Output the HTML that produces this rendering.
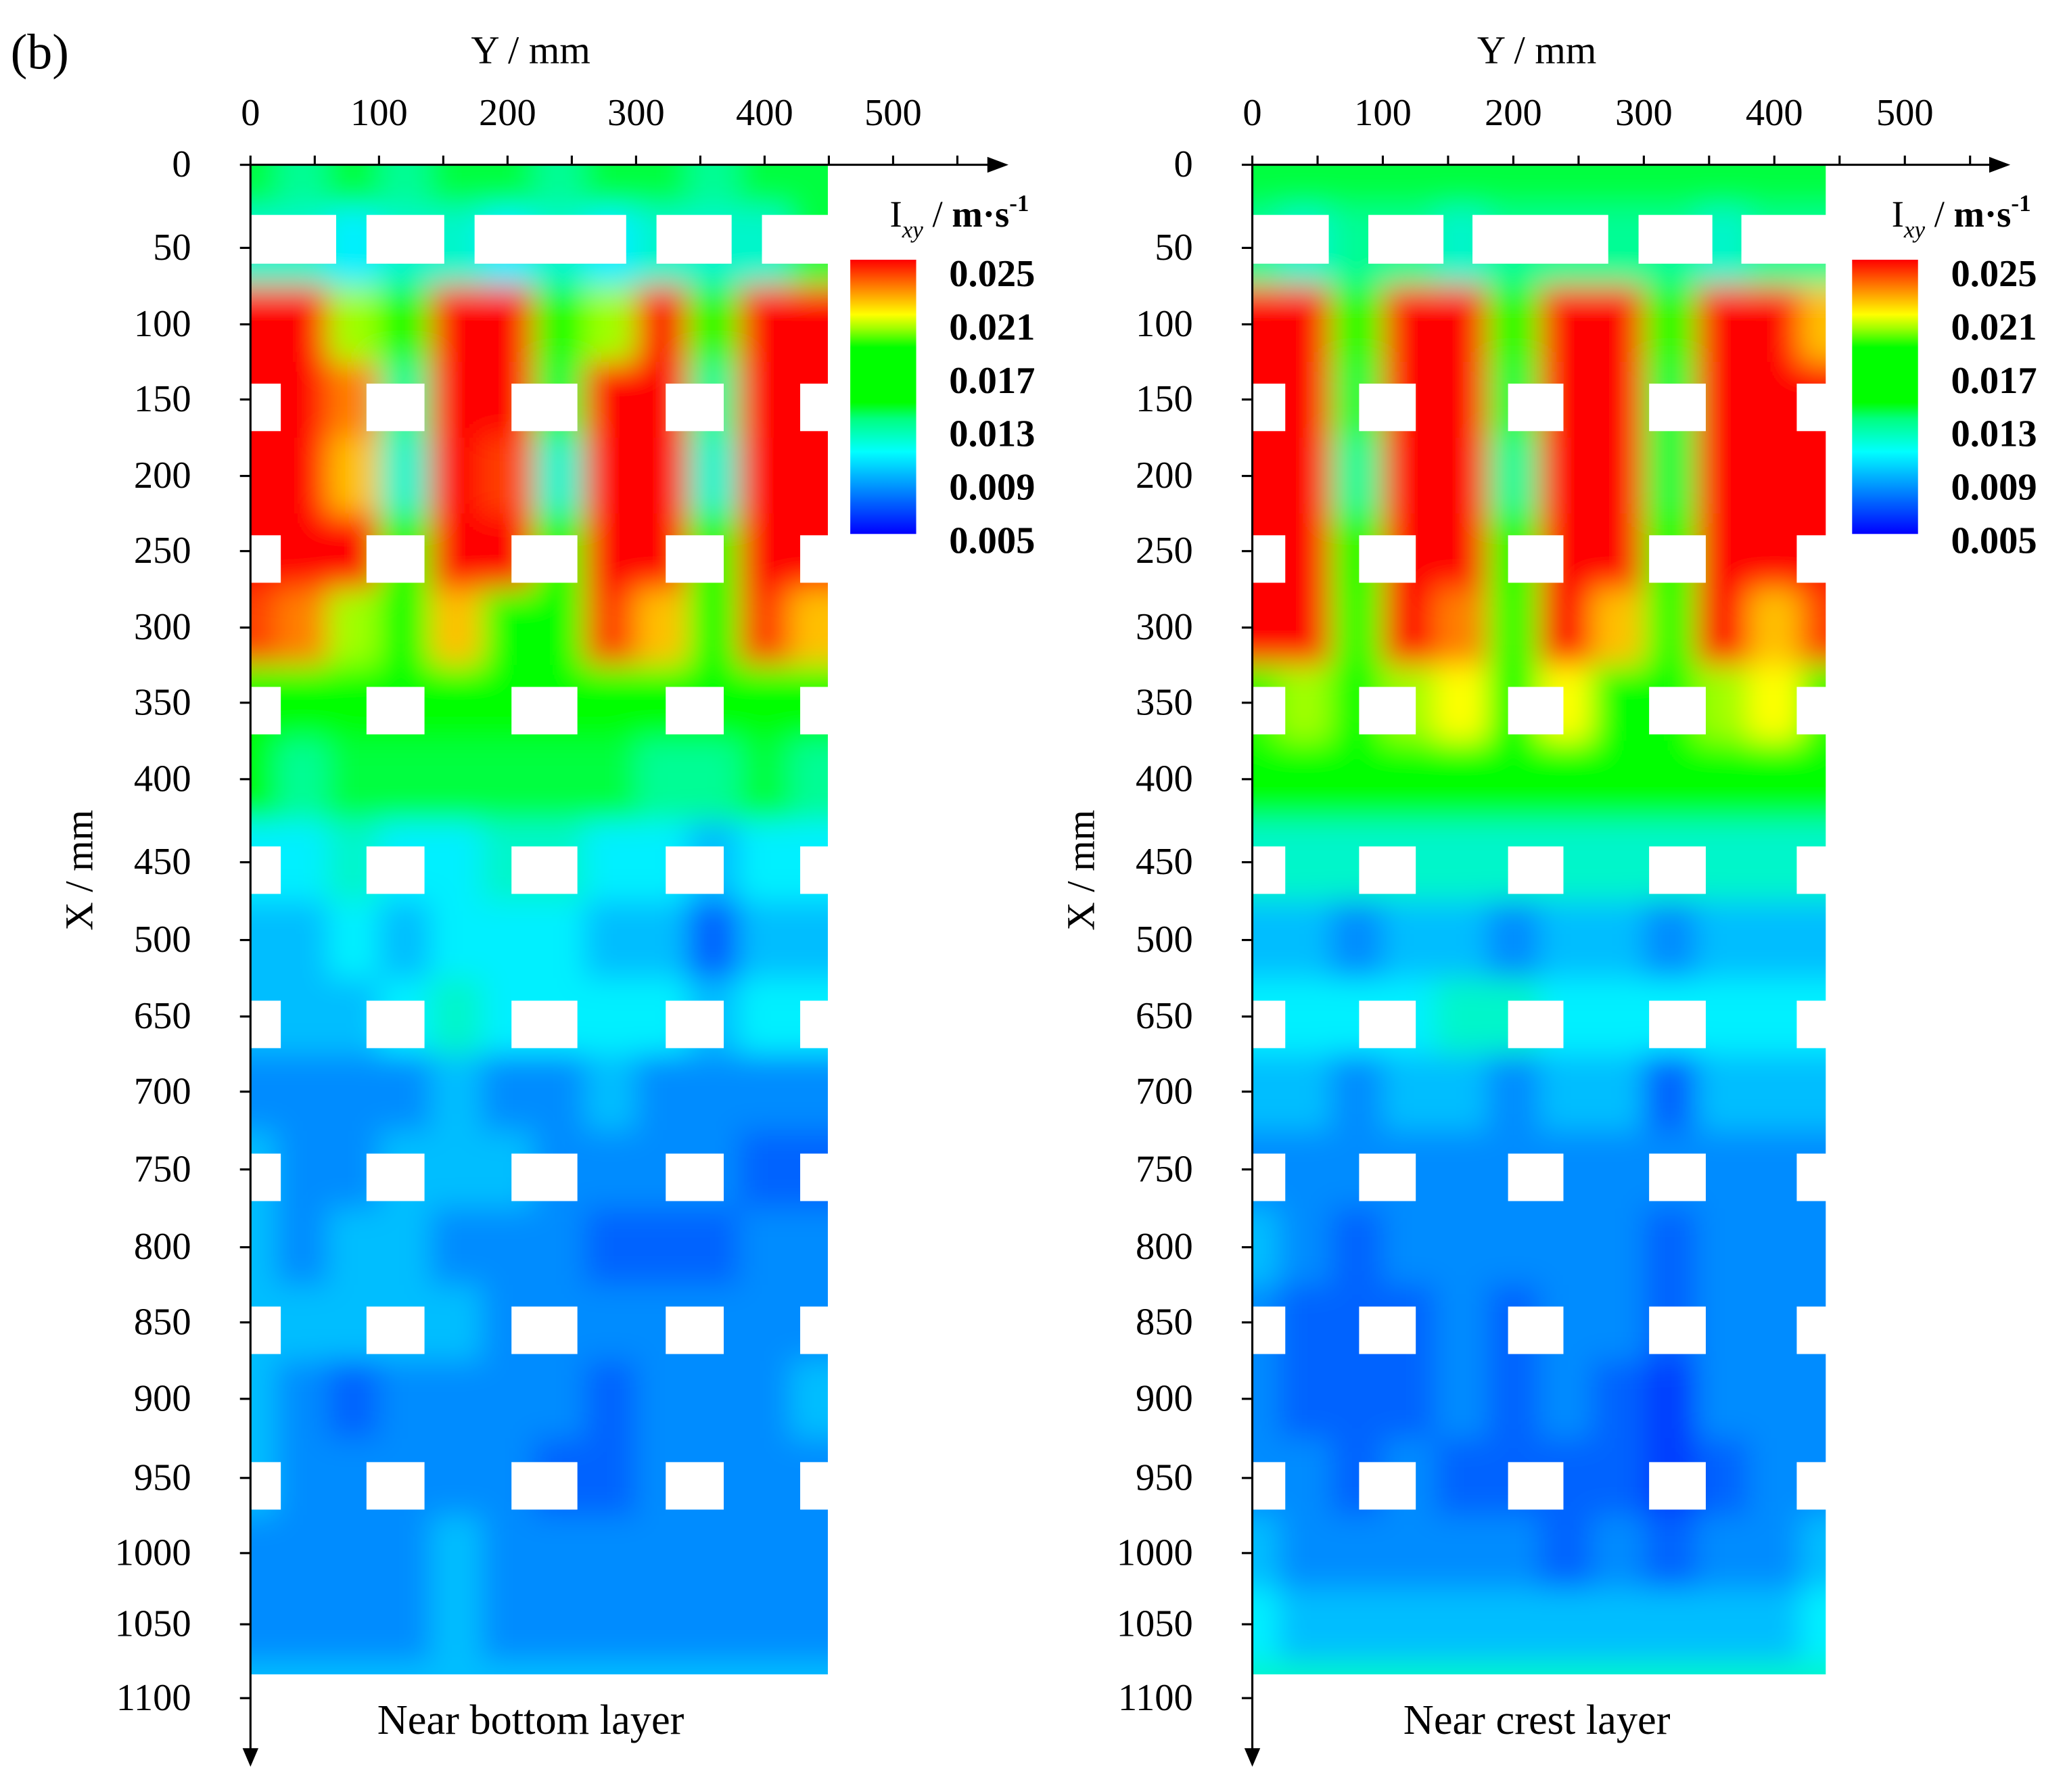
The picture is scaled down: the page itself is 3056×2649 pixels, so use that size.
<!DOCTYPE html>
<html><head><meta charset="utf-8"><style>
html,body{margin:0;padding:0;background:#fff;}
svg{display:block;}
text{font-family:"Liberation Serif",serif;fill:#000;}
</style></head><body>
<svg id="chart" width="3056" height="2649" viewBox="0 0 1568 1359.2" xmlns="http://www.w3.org/2000/svg">
<defs>
<filter id="blur" x="-5%" y="-5%" width="110%" height="110%"><feGaussianBlur stdDeviation="11"/></filter>
<linearGradient id="cbar" x1="0" y1="1" x2="0" y2="0">
<stop offset="0" stop-color="#0000ff"/><stop offset="0.15" stop-color="#0080ff"/><stop offset="0.3" stop-color="#00ffff"/><stop offset="0.42" stop-color="#00ff80"/><stop offset="0.48" stop-color="#00ff00"/><stop offset="0.68" stop-color="#00ff00"/><stop offset="0.75" stop-color="#a0ff00"/><stop offset="0.8" stop-color="#ffff00"/><stop offset="0.9" stop-color="#ff8000"/><stop offset="1" stop-color="#ff0000"/>
</linearGradient>
<clipPath id="clipL"><rect x="190" y="125" width="438" height="1145"/></clipPath>
<clipPath id="clipR"><rect x="950" y="125" width="435" height="1145"/></clipPath>
</defs>
<text x="8" y="52" font-size="38">(b)</text>
</svg>
<script>
const yTicks=[0,100,200,300,400,500];
const xTickLabels=[0,50,100,150,200,250,300,350,400,450,500,650,700,750,800,850,900,950,1000,1050,1100];
const xTickPos=[125,188,246,303,361,418,476,533,591,654,713,771,828,887,946,1003,1061,1121,1178,1232,1288];
const cols=[0,40,80,120,160,200,240,280,320,360,400,440];
const leftVals=[
[14,13,14,13,14,14,13,14,14,13,14,14],
[12,12,11,12,12,11,12,11,12,12,12,14],
[25,25,20,16,25,25,17,20,25,18,25,25],
[25,25,23,13,25,25,14,25,25,13,25,25],
[25,25,22,12,25,24,12,25,25,12,25,25],
[25,25,25,17,25,25,16,25,25,17,25,25],
[24,23,20,17,22,18,18,24,22,17,24,22],
[16,16,16,16,15,16,16,16,16,15,16,16],
[15,13,14,14,14,14,14,14,13,13,14,13],
[11,11,12,11,11,12,12,11,11,10,11,11],
[10,10,11,10,11,11,11,10,10,8,10,10],
[10,10,10,11,12,11,11,11,11,10,11,11],
[9,9,9,9,10,9,9,10,9,9,9,9],
[10,9,9,10,10,10,9,9,9,9,8,8],
[10,9,10,10,9,9,9,8,8,8,9,9],
[10,10,10,10,10,9,9,9,9,9,9,9],
[10,9,8,9,9,9,9,8,9,9,9,10],
[10,9,9,9,9,9,8,8,9,9,9,9],
[9,9,9,9,10,9,9,9,9,9,9,9],
[9,9,9,9,10,9,9,9,9,9,9,9],
[10,10,10,10,10,10,10,10,10,10,10,10]];
const rightVals=[
[14,14,14,14,14,14,14,14,14,14,14,14],
[13,12,13,13,12,13,13,13,13,12,13,13],
[25,25,15,25,25,15,25,25,15,25,25,22],
[25,25,14,25,25,14,25,25,14,25,25,25],
[25,25,13,25,25,13,25,25,14,25,25,25],
[25,25,17,25,25,16,25,25,17,25,25,25],
[25,25,19,25,23,19,25,22,19,25,22,24],
[19,20,16,20,21,17,21,18,17,20,21,19],
[16,16,15,16,15,16,16,16,15,16,16,16],
[12,12,12,12,12,12,12,12,12,12,12,12],
[10,10,9,10,10,9,10,10,9,10,10,10],
[11,11,11,11,12,12,11,11,11,11,11,11],
[10,10,9,10,10,9,10,10,8,10,10,10],
[9,9,9,9,9,9,9,9,9,9,9,9],
[10,9,8,9,9,9,9,9,8,9,9,9],
[9,8,8,8,9,8,9,9,8,9,9,9],
[9,8,8,8,9,8,9,8,7,9,9,9],
[9,9,8,9,8,8,8,8,7,8,9,9],
[10,9,9,9,9,9,8,9,8,9,9,10],
[11,10,10,10,10,10,10,10,10,10,10,11],
[12,12,12,12,12,12,12,12,12,12,12,12]];
const legendLabels=["0.025","0.021","0.017","0.013","0.009","0.005"];
const blockRowsX=[150,250,350,450,650,750,850,950];
const NS="http://www.w3.org/2000/svg";
const svg=document.getElementById('chart');
function mk(t,a,p){const e=document.createElementNS(NS,t);for(const k in a)e.setAttribute(k,a[k]);(p||svg).appendChild(e);return e;}
const stops=[[5,[0,0,255]],[7,[0,60,255]],[9,[0,140,255]],[11,[0,240,255]],[13.4,[0,255,128]],[14.6,[0,255,0]],[18.6,[0,255,0]],[20,[160,255,0]],[21,[255,255,0]],[23,[255,128,0]],[25,[255,0,0]]];
function color(v){if(v<=5)return 'rgb(0,0,255)';if(v>=25)return 'rgb(255,0,0)';
for(let i=1;i<stops.length;i++){if(v<=stops[i][0]){const a=stops[i-1],b=stops[i],t=(v-a[0])/(b[0]-a[0]);
return 'rgb('+a[1].map((c,j)=>Math.round(c+(b[1][j]-c)*t)).join(',')+')';}}}
function xPos(x){for(let i=1;i<xTickLabels.length;i++){if(x<=xTickLabels[i]){const t=(x-xTickLabels[i-1])/(xTickLabels[i]-xTickLabels[i-1]);return xTickPos[i-1]+t*(xTickPos[i]-xTickPos[i-1]);}}return xTickPos[xTickPos.length-1];}
function panel(o){
  const ys=y=>o.x0+y*o.k;
  const outer=mk('g',{'clip-path':'url(#'+o.clip+')'});
  
  
  const g=mk('g',{filter:'url(#blur)'},outer);
  o.vals.forEach((row,i)=>{
    const yc=xPos(xTickLabels[i]);
    const top=i==0?yc-40:(yc+xPos(xTickLabels[i-1]))/2;
    const bot=i==o.vals.length-1?yc+40:(yc+xPos(xTickLabels[i+1]))/2;
    row.forEach((v,j)=>{
      const l=j==0?ys(cols[j])-40:ys((cols[j]+cols[j-1])/2);
      const r=j==row.length-1?ys(cols[j])+60:ys((cols[j]+cols[j+1])/2);
      const c=mk('rect',{x:l,y:top,width:r-l+0.5,height:bot-top+0.5,fill:color(v)},g);
      
      
    });
  });
  o.firstBlocks.forEach(b=>{const r=mk('rect',{x:b[0],y:163,width:b[1]-b[0],height:37,fill:'#fff'});
    });
  blockRowsX.forEach(xv=>{const yc=xPos(xv);o.blocks.forEach(b=>{
    const r=mk('rect',{x:b[0],y:yc-12,width:b[1]-b[0],height:36,fill:'#fff'});
    });});
  const ax=mk('g',{stroke:'#000','stroke-width':1.6,fill:'none'});
  
  mk('line',{x1:o.x0,y1:125,x2:o.x0+568,y2:125},ax);
  mk('path',{d:`M${o.x0+575},125 l-16,-6 l0,12 z`,fill:'#000',stroke:'none'},ax);
  mk('line',{x1:o.x0,y1:125,x2:o.x0,y2:1330},ax);
  mk('path',{d:`M${o.x0},1340 l-6,-14 l12,0 z`,fill:'#000',stroke:'none'},ax);
  for(let y=0;y<=550;y+=50){mk('line',{x1:ys(y),y1:125,x2:ys(y),y2:118},ax);}
  yTicks.forEach(y=>{const t=mk('text',{x:ys(y),y:95,'font-size':29,'text-anchor':'middle'});t.textContent=y;
    });
  xTickLabels.forEach(x=>{const p=xPos(x);mk('line',{x1:o.x0-8,y1:p,x2:o.x0,y2:p},ax);
    const t=mk('text',{x:o.x0-45,y:p+9,'font-size':29,'text-anchor':'end'});t.textContent=x;
    });
  const yt=mk('text',{x:ys(218),y:48,'font-size':30,'text-anchor':'middle'});yt.textContent='Y / mm';
  
  const xt=mk('text',{x:0,y:0,'font-size':30,'text-anchor':'middle',transform:`translate(${o.x0-120},660) rotate(-90)`});xt.textContent='X / mm';
  
  const cap=mk('text',{x:ys(218),y:1315,'font-size':32,'text-anchor':'middle'});cap.textContent=o.caption;
  
  const lg=mk('g',{});
  mk('rect',{x:o.lx,y:197,width:50,height:208,fill:'url(#cbar)'},lg);
  const tt=mk('text',{x:o.lx+30,y:172,'font-size':28},lg);
  tt.innerHTML='I<tspan font-size="18" dy="8" font-style="italic">xy</tspan><tspan dy="-8"> / </tspan><tspan font-weight="bold">m·s</tspan><tspan font-size="18" dy="-12" font-weight="bold">-1</tspan>';
  legendLabels.forEach((s,i)=>{const t=mk('text',{x:o.lx+75,y:217+i*40.5,'font-size':29,'font-weight':'bold'},lg);t.textContent=s;
    });
}
panel({name:'left-panel',x0:190,k:0.975,clip:'clipL',vals:leftVals,caption:'Near bottom layer',lx:645,
  firstBlocks:[[190,255],[278,337],[360,475],[498,555],[578,629]],
  blocks:[[189,213],[278,322],[388,438],[505,549],[607,629]]});
panel({name:'right-panel',x0:950,k:0.99,clip:'clipR',vals:rightVals,caption:'Near crest layer',lx:1405,
  firstBlocks:[[950,1008],[1038,1095],[1117,1220],[1243,1299],[1321,1386]],
  blocks:[[949,975],[1031,1074],[1144,1186],[1251,1294],[1363,1386]]});
</script>
</body></html>
